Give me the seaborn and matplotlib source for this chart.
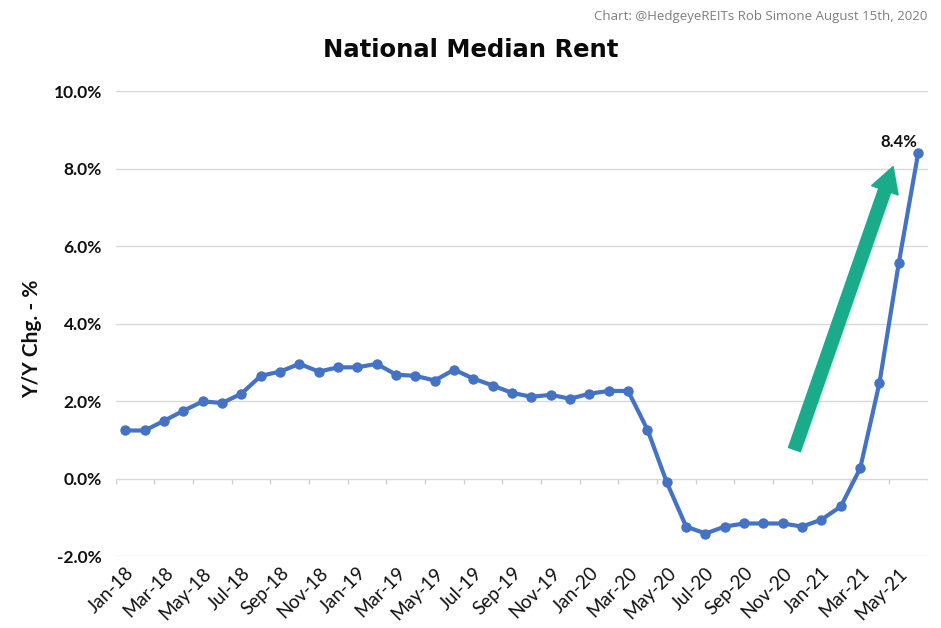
import numpy as np
import pandas as pd
import matplotlib
matplotlib.use('Agg')
import matplotlib.pyplot as plt
import matplotlib.patheffects as pe
import seaborn as sns

# data (Y/Y change, %)
months = ['Jan-18', 'Feb-18', 'Mar-18', 'Apr-18', 'May-18', 'Jun-18', 'Jul-18', 'Aug-18',
          'Sep-18', 'Oct-18', 'Nov-18', 'Dec-18', 'Jan-19', 'Feb-19', 'Mar-19', 'Apr-19',
          'May-19', 'Jun-19', 'Jul-19', 'Aug-19', 'Sep-19', 'Oct-19', 'Nov-19', 'Dec-19',
          'Jan-20', 'Feb-20', 'Mar-20', 'Apr-20', 'May-20', 'Jun-20', 'Jul-20', 'Aug-20',
          'Sep-20', 'Oct-20', 'Nov-20', 'Dec-20', 'Jan-21', 'Feb-21', 'Mar-21', 'Apr-21',
          'May-21', 'Jun-21']
rent_yoy = [1.24, 1.24, 1.49, 1.75, 1.99, 1.95, 2.19, 2.65, 2.76, 2.96, 2.76, 2.87,
            2.87, 2.96, 2.68, 2.65, 2.53, 2.81, 2.58, 2.40, 2.21, 2.11, 2.16, 2.06,
            2.19, 2.26, 2.26, 1.26, -0.10, -1.24, -1.42, -1.24, -1.16, -1.16, -1.16, -1.24,
            -1.06, -0.72, 0.26, 2.47, 5.57, 8.40]
y_ticks = [-2, 0, 2, 4, 6, 8, 10]

df = pd.DataFrame({'pos': np.arange(len(months)), 'month': months, 'yoy': rent_yoy})

sns.set_theme(style='white')
plt.rcParams['font.family'] = ['Lato', 'DejaVu Sans']

line_col = '#4472C4'
arrow_col = '#1AAB8A'

fig = plt.figure(figsize=(9.41, 6.28), dpi=100)
ax = fig.add_axes([0.123, 0.1146, 0.863, 0.7404])

sns.lineplot(data=df, x='pos', y='yoy', color=line_col, linewidth=3.0,
             marker='o', markersize=7.5, markeredgewidth=0, ax=ax)

ax.set_xlim(-0.5, len(months) - 0.5)
ax.set_ylim(-2, 10)
ax.set_yticks(y_ticks)
ax.set_yticklabels(['%.1f%%' % v for v in y_ticks], fontsize=12.5, fontweight='bold')
ax.set_xticks(df['pos'][::2])
ax.set_xticklabels(df['month'][::2], rotation=45, ha='right', rotation_mode='anchor',
                   fontsize=13.5)
ax.tick_params(axis='both', length=0, pad=10, colors='#111111')
ax.tick_params(axis='x', pad=6)
ax.grid(axis='y', color='#D9D9D9', linewidth=1.0)
ax.set_axisbelow(True)
sns.despine(ax=ax, left=True, bottom=True)
ax.set_xlabel('')
ax.set_ylabel('')

# small tick marks on the 0% axis, between categories
ax.vlines(np.arange(-0.5, len(months), 2), -0.13, 0, color='#D0D0D0', linewidth=1.0, zorder=1)

# data label on the last point
ax.annotate('%.1f%%' % rent_yoy[-1], xy=(df['pos'].iloc[-1], rent_yoy[-1]),
            xytext=(-1, 2), textcoords='offset points', ha='right', va='bottom',
            fontsize=12, fontweight='bold', color='#111111')

# big green arrow
arr = ax.annotate('', xy=(39.7, 8.05), xytext=(34.6, 0.75),
                  arrowprops=dict(arrowstyle='simple,head_length=1.8,head_width=2.0,tail_width=0.9',
                                  color=arrow_col, mutation_scale=10, shrinkA=0, shrinkB=0,
                                  joinstyle='round', capstyle='round'))
arr.arrow_patch.set_path_effects([pe.SimplePatchShadow(offset=(1.5, -1.5), alpha=0.12), pe.Normal()])

fig.text(0.5, 0.921, 'National Median Rent', ha='center', va='center',
         fontsize=17.5, fontweight='bold', color='#0A0A0A', family=['DejaVu Sans'])
fig.text(0.034, 0.46, 'Y/Y Chg. - %', rotation=90, ha='center', va='center',
         fontsize=15, fontweight='bold', color='#111111')
fig.text(0.986, 0.973, 'Chart: @HedgeyeREITs Rob Simone August 15th, 2020', ha='right',
         va='center', fontsize=9.5, color='#7F7F7F', family=['Open Sans', 'DejaVu Sans'])

fig.savefig('out.png', dpi=100, facecolor='white')
